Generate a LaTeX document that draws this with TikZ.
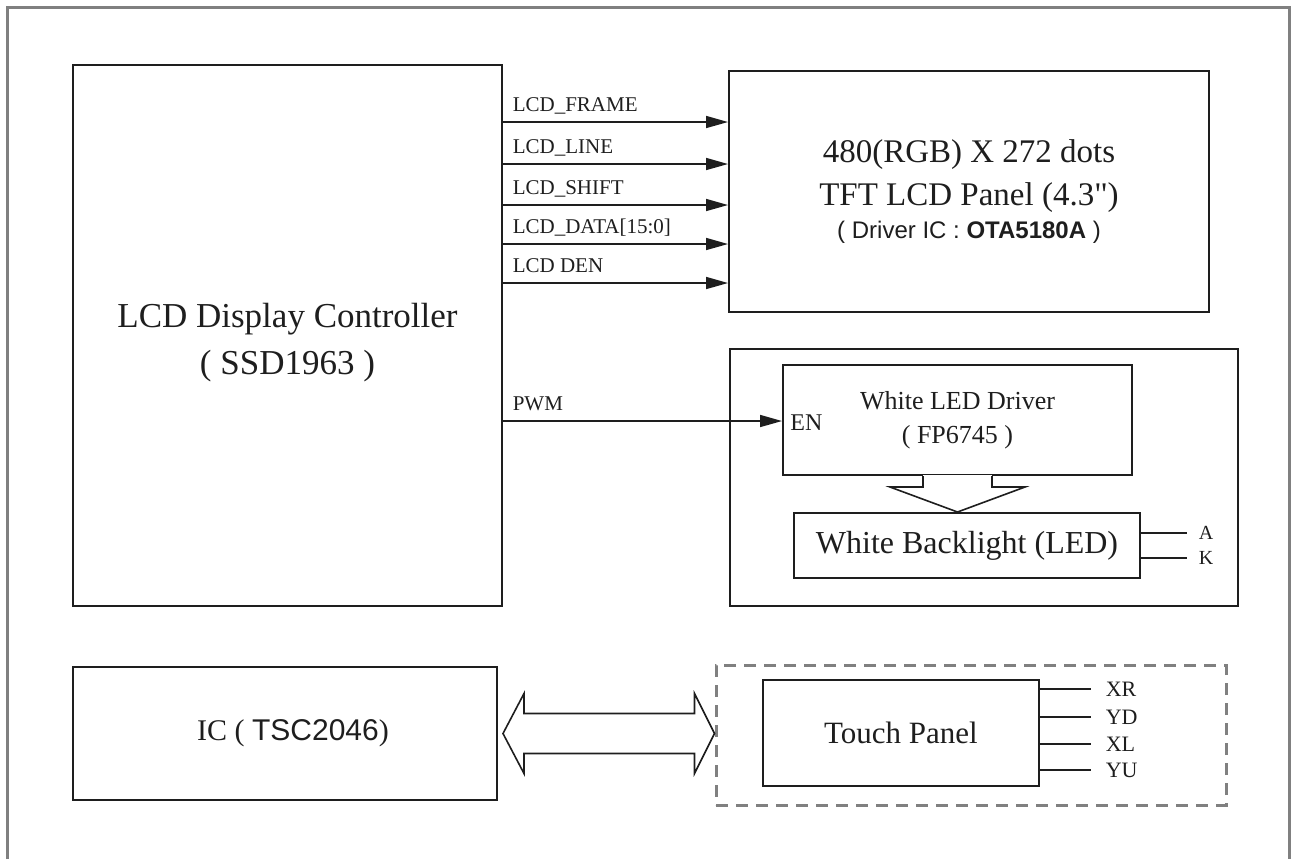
\documentclass[tikz,border=0pt]{standalone}
\usepackage{fontspec}
\setmainfont{Liberation Serif}
\newfontfamily\arialfont{Liberation Sans}
\newfontfamily\rawserif{Liberation Serif}
\usetikzlibrary{arrows.meta,calc}
\definecolor{framegray}{HTML}{808080}
\definecolor{ink}{HTML}{1E1E1E}
\tikzset{
  blk/.style={draw=ink, line width=1pt, inner sep=0pt, align=center, text=ink},
  txt/.style={inner sep=0pt, align=center, text=ink},
  sig/.style={draw=ink, line width=0.8pt, -{Triangle[length=11pt,width=6pt]}},
  siglbl/.style={font=\fontsize{10.5}{12}\selectfont, text=ink, inner sep=0pt, anchor=base west},
  pin/.style={draw=ink, line width=0.8pt},
  pinlbl/.style={font=\fontsize{11}{12}\selectfont, text=ink, inner sep=0pt, anchor=west},
  hollow/.style={draw=ink, line width=0.8pt, line join=miter},
}
\begin{document}
\begin{tikzpicture}[x=0.5pt, y=-0.5pt]
\useasboundingbox (0,0) rectangle (1291,859);
\draw[framegray, line width=1.5pt] (7,859) -- (7,7) -- (1289,7) -- (1289,859);
\node[blk, minimum width=214.5pt, minimum height=270.5pt] (ctrl) at (287.5,335.5) {};
\node[txt, font=\fontsize{17.5}{23.5}\selectfont] (ctrltxt) at ([yshift=-3.5pt]ctrl.center) {LCD Display Controller\\( SSD1963 )};
\node[blk, minimum width=240pt, minimum height=120.5pt, font=\fontsize{16.5}{21.5}\selectfont] (panel) at (969,191.5) {480(RGB) X 272 dots\\TFT LCD Panel (4.3{\rawserif"})\\[-5pt]{\arialfont\fontsize{12}{14}\selectfont ( Driver IC : \textbf{OTA5180A} )}};
\node[blk, minimum width=254pt, minimum height=128.5pt] (bkl) at (984,477.5) {};
\node[blk, minimum width=174.5pt, minimum height=55pt, font=\fontsize{13}{17}\selectfont] (drv) at (957.5,420) {White LED Driver\\( FP6745 )};
\node[blk, minimum width=173pt, minimum height=32.5pt, font=\fontsize{16}{18}\selectfont] (led) at (967,545.5) {White Backlight (LED)};
\node[blk, minimum width=212pt, minimum height=66.5pt] (tsc) at (285,733.5) {};
\node[txt, font=\fontsize{15}{18}\selectfont] (tsctxt) at ([xshift=4pt]tsc.center) {IC ( {\arialfont TSC2046})};
\node[blk, draw=framegray, line width=1.5pt, dash pattern=on 6pt off 4pt, minimum width=255pt, minimum height=70pt] (tgrp) at (971,735) {};
\node[blk, minimum width=138pt, minimum height=53pt, font=\fontsize{15.5}{18}\selectfont] (touch) at (901,733) {Touch Panel};

\foreach \y/\name [count=\i] in {122/LCD\_FRAME, 164/LCD\_LINE, 205/LCD\_SHIFT, 244/LCD\_DATA[15:0], 283/LCD DEN}
  \draw[sig] (ctrl.east |- 0,\y) node[siglbl, xshift=4.5pt, yshift=5.5pt] (sig\i) {\name} -- (panel.west |- 0,\y);

\draw[sig] (ctrl.east |- 0,421) node[siglbl, xshift=4.5pt, yshift=5.5pt] (pwm) {PWM} -- (drv.west |- 0,421);
\node[text=ink, font=\fontsize{12}{14}\selectfont, anchor=west, inner sep=0pt, xshift=4pt] (en) at (drv.west |- 0,423) {EN};

\draw[white, line width=1.3pt] ([xshift=-17.25pt]drv.south) -- ([xshift=17.25pt]drv.south);
\draw[hollow] ([xshift=-17.25pt]drv.south) -- ++(0,11) -- ++(-33,0) -- (drv.south |- led.north) -- ($(drv.south)+(67.5,11)$) -- ++(-33,0) -- ([xshift=17.25pt]drv.south);

\draw[pin] (led.east |- 0,533) -- ++(46,0) node[pinlbl, font=\fontsize{10}{11}\selectfont, xshift=5.5pt] (pa) {A};
\draw[pin] (led.east |- 0,558) -- ++(46,0) node[pinlbl, font=\fontsize{10}{11}\selectfont, xshift=5.5pt] (pk) {K};

\foreach \y/\name in {689/XR, 717/YD, 744/XL, 770/YU}
  \draw[pin] (touch.east |- 0,\y) -- ++(51,0) node[pinlbl, xshift=7pt] (p\name) {\name};

\coordinate (dl) at ([xshift=2.5pt]tsc.east);
\coordinate (dr) at (tgrp.west |- dl);
\draw[hollow] (dl) -- ++(21,-40) -- ++(0,20) -- ($(dr)+(-20,-20)$) -- ++(0,-20) -- (dr) -- ++(-20,40) -- ++(0,-20) -- ($(dl)+(21,20)$) -- ++(0,20) -- cycle;
\end{tikzpicture}
\end{document}
